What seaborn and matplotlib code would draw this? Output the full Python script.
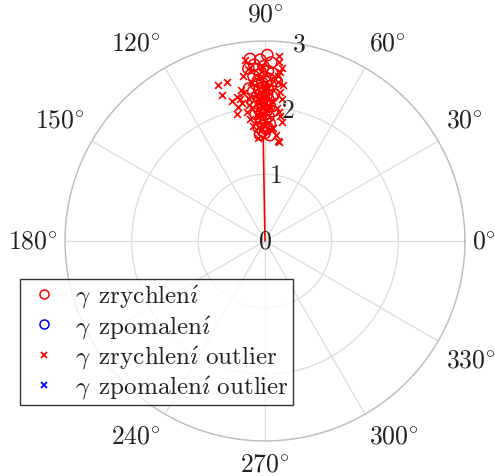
import numpy as np
import pandas as pd
import matplotlib
matplotlib.use("Agg")
import matplotlib.pyplot as plt
import seaborn as sns
from matplotlib.lines import Line2D

# ---- data (angles in degrees, radius) ----
acc_theta = [89.3, 94.7, 91.5, 88.0, 93.5, 90.5, 92.8, 89.0, 87.5, 91.8, 94.0, 90.0,
             88.5, 92.5, 89.5, 91.0, 93.2, 87.8, 90.6, 92.0, 88.9, 94.5, 90.2, 91.6,
             89.2, 93.0, 87.2, 90.8, 92.3, 88.6, 95.0, 90.0, 91.3, 89.6, 93.6, 88.2,
             90.9, 92.6, 89.1, 86.8, 91.4, 94.2, 90.3, 88.4, 92.1, 89.8, 91.9, 87.6,
             90.7, 93.3, 89.4, 91.2, 92.7, 87.3, 90.1, 88.8, 96.0, 85.8, 95.5, 86.5]
acc_r = [2.79, 2.74, 2.72, 2.68, 2.65, 2.62, 2.58, 2.55, 2.52, 2.50, 2.48, 2.46,
         2.43, 2.41, 2.39, 2.37, 2.35, 2.33, 2.31, 2.29, 2.27, 2.25, 2.23, 2.21,
         2.20, 2.18, 2.17, 2.15, 2.13, 2.12, 2.10, 2.09, 2.07, 2.05, 2.03, 2.02,
         2.00, 1.98, 1.96, 1.95, 1.93, 1.91, 1.89, 1.87, 1.84, 1.82, 1.79, 1.76,
         1.73, 1.71, 1.68, 1.65, 1.60, 1.59, 1.62, 1.70, 2.30, 2.40, 2.60, 2.20]

acc_out_theta = [85.6, 85.4, 106.7, 103.4, 106.4, 103.4, 100.0, 102.6, 85.4, 85.2,
                 84.2, 83.3, 83.2, 82.0, 87.4, 82.4, 97.0, 95.8, 95.5, 96.3,
                 81.8, 84.5, 85.0, 83.8, 96.8, 98.0, 99.5, 101.0, 97.5, 86.0,
                 83.5, 94.0, 84.0, 88.0, 93.0, 92.0, 89.0, 96.5, 98.5, 91.0,
                 87.0, 95.0, 101.5, 99.0, 84.8, 93.8]
acc_out_r = [2.79, 2.69, 2.44, 2.45, 2.29, 2.16, 2.16, 1.95, 2.49, 2.39,
             2.24, 2.14, 1.89, 1.80, 1.68, 1.52, 1.84, 1.74, 2.59, 2.73,
             1.50, 2.60, 2.00, 1.95, 2.05, 1.95, 2.10, 2.20, 2.50, 1.70,
             2.35, 1.55, 1.60, 2.00, 2.20, 2.45, 2.30, 2.15, 2.25, 2.62,
             2.10, 2.40, 2.05, 2.30, 2.55, 1.90]

dec_theta, dec_r = [], []
dec_out_theta, dec_out_r = [], []

mean_theta = 91.0
mean_r = 1.55

tick_deg = [0, 30, 60, 90, 120, 150, 180, 210, 240, 270, 300, 330]
tick_labels = [r"$0^{\circ}$", r"$30^{\circ}$", r"$60^{\circ}$", r"$90^{\circ}$",
               r"$120^{\circ}$", r"$150^{\circ}$", r"$180^{\circ}$", "",
               r"$240^{\circ}$", r"$270^{\circ}$", r"$300^{\circ}$", r"$330^{\circ}$"]
r_ticks = [0, 1, 2, 3]
r_tick_labels = ["0", "1", "2", "3"]

labels = [r"$\gamma\ \,\mathrm{zrychlen\acute{\imath}}$",
          r"$\gamma\ \,\mathrm{zpomalen\acute{\imath}}$",
          r"$\gamma\ \,\mathrm{zrychlen\acute{\imath}\ outlier}$",
          r"$\gamma\ \,\mathrm{zpomalen\acute{\imath}\ outlier}$"]

# ---- plotting ----
sns.set_theme(style="white")
plt.rcParams["font.family"] = ["cmr10", "DejaVu Serif"]
plt.rcParams["mathtext.fontset"] = "cm"
plt.rcParams["axes.formatter.use_mathtext"] = True

FS = 18.5
LFS = 18
TXT = "#222222"

fig = plt.figure(figsize=(4.95, 4.77), dpi=100)
ax = fig.add_axes([65 / 495, 35 / 477, 400 / 495, 400 / 477], projection="polar")

df_acc = pd.DataFrame({"theta": np.deg2rad(acc_theta), "r": acc_r})
df_out = pd.DataFrame({"theta": np.deg2rad(acc_out_theta), "r": acc_out_r})

ax.plot([np.deg2rad(mean_theta)] * 2, [0, mean_r], color="red", lw=1.2, zorder=3)
sns.scatterplot(data=df_out, x="theta", y="r", ax=ax, marker="x", color="red",
                s=24, linewidth=1.2, zorder=4)
sns.scatterplot(data=df_acc, x="theta", y="r", ax=ax, marker="o", facecolor="none",
                edgecolor="red", s=64, linewidth=1.1, zorder=5)

ax.set_xlabel("")
ax.set_ylabel("")
ax.set_ylim(0, 3)
ax.set_xticks(np.deg2rad(tick_deg))
ax.set_xticklabels([])
ax.set_yticks(r_ticks)
ax.set_yticklabels([])
ax.set_rlabel_position(80)

# angular labels placed outside the rim, anchored by their near side
for deg, lab in zip(tick_deg, tick_labels):
    if not lab:
        continue
    c, s = np.cos(np.deg2rad(deg)), np.sin(np.deg2rad(deg))
    ha = "left" if c > 0.01 else ("right" if c < -0.01 else "center")
    va = "bottom" if s > 0.01 else ("top" if s < -0.01 else "center")
    dx = 8.5 * c if abs(s) > 0.01 else 7 * c
    if s > 0.01:
        dy = 10 * s + 5
    elif s < -0.01:
        dy = 8 * s - 3
    else:
        dy = 0
    ax.annotate(lab, xy=(np.deg2rad(deg), 3), xycoords="data",
                xytext=(dx, dy), textcoords="offset pixels",
                ha=ha, va=va, fontsize=FS, color=TXT, annotation_clip=False)

for rv, lab in zip(r_ticks, r_tick_labels):
    ax.text(np.deg2rad(80), rv, lab, ha="center", va="center", fontsize=FS,
            color=TXT, zorder=6)

ax.grid(True, color="#dcdcdc", lw=0.9)
ax.spines["polar"].set_color("#bdbdbd")
ax.spines["polar"].set_linewidth(1.0)
ax.set_facecolor("white")

handles = [
    Line2D([], [], ls="none", marker="o", mfc="none", mec="red", ms=6.5, mew=1.1),
    Line2D([], [], ls="none", marker="o", mfc="none", mec="blue", ms=6.5, mew=1.1),
    Line2D([], [], ls="none", marker="x", color="red", ms=5, mew=1.3),
    Line2D([], [], ls="none", marker="x", color="blue", ms=5, mew=1.3),
]
leg = fig.legend(handles, labels, loc="lower left",
                 bbox_to_anchor=(20 / 495, 71 / 477), fontsize=LFS,
                 frameon=True, fancybox=False, edgecolor="black",
                 borderpad=0.15, labelspacing=0.1, handletextpad=0.45,
                 handlelength=1.6, borderaxespad=0)
leg.get_frame().set_linewidth(1.0)
for t in leg.get_texts():
    t.set_color(TXT)

fig.savefig("out.png", dpi=100, facecolor="white")
